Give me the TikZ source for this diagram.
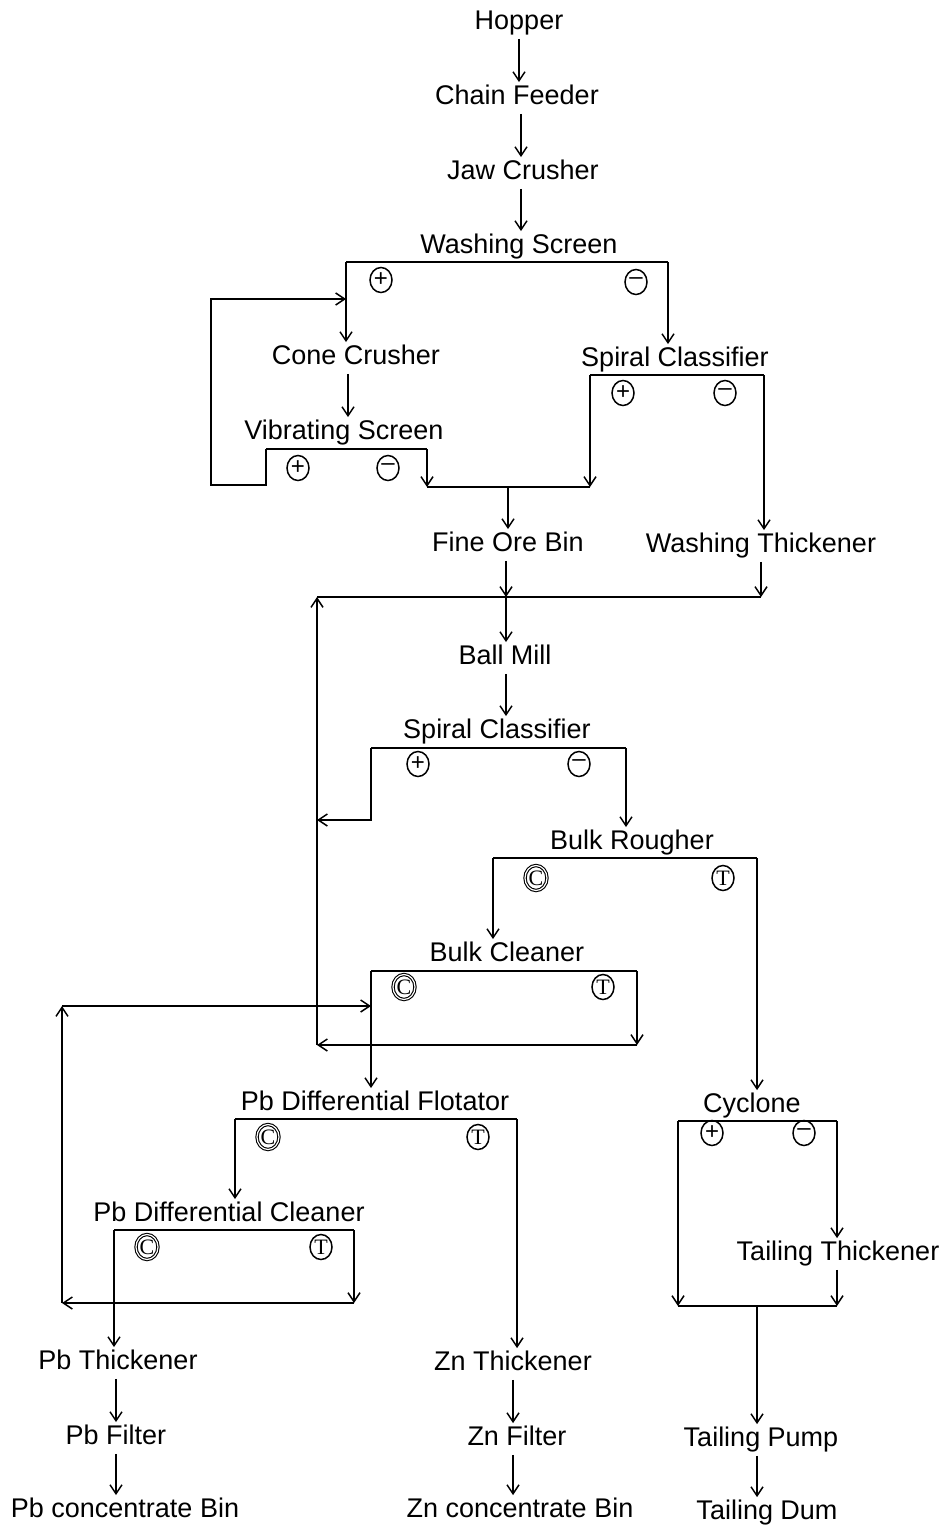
\documentclass[tikz,border=0pt]{standalone}
\usepackage{fontspec}
\setmainfont{Liberation Sans}
\newfontfamily\serifsym{Liberation Serif}
\usetikzlibrary{arrows.meta,shapes.geometric}
\begin{document}
\begin{tikzpicture}[x=1pt,y=-1pt,
  lbl/.style={font=\fontsize{27}{31}\selectfont, inner xsep=1pt, inner ysep=3pt, text height=19.5pt, text depth=5.9pt, yshift=-3pt},
  ln/.style={line width=1.6pt},
  arr/.style={ln, -{Straight Barb[length=9pt,width=12pt,line width=1.5pt]}},
  sym/.style={ellipse, draw, line width=1.5pt, inner sep=0pt, minimum width=22pt, minimum height=25pt, font=\fontsize{24}{24}\selectfont},
  symc/.style={sym, double, double distance=1.2pt, line width=1.1pt, font=\serifsym\fontsize{22}{22}\selectfont},
  symt/.style={sym, font=\serifsym\fontsize{22}{22}\selectfont},
]
\useasboundingbox (0,0) rectangle (946,1525);
% ---- nodes
\node[lbl] (hopper) at (519,20) {Hopper};
\node[lbl] (chain) at (517,95) {Chain Feeder};
\node[lbl] (jaw) at (523,170) {Jaw Crusher};
\node[lbl] (wash) at (519,244) {Washing Screen};
\node[lbl] (cone) at (356,355) {Cone Crusher};
\node[lbl] (spc1) at (675,357) {Spiral Classifier};
\node[lbl] (vib) at (344,430) {Vibrating Screen};
\node[lbl] (fob) at (508,542) {Fine Ore Bin};
\node[lbl] (wthick) at (761,543) {Washing Thickener};
\node[lbl] (ball) at (505,655) {Ball Mill};
\node[lbl] (spc2) at (497,729) {Spiral Classifier};
\node[lbl] (rough) at (632,840) {Bulk Rougher};
\node[lbl] (clean) at (507,952) {Bulk Cleaner};
\node[lbl] (pbf) at (375,1101) {Pb Differential Flotator};
\node[lbl] (cyc) at (752,1103) {Cyclone};
\node[lbl] (pbc) at (229,1212) {Pb Differential Cleaner};
\node[lbl] (tt) at (838,1251) {Tailing Thickener};
\node[lbl] (pbt) at (118,1360) {Pb Thickener};
\node[lbl] (znt) at (513,1361) {Zn Thickener};
\node[lbl] (pbfil) at (116,1435) {Pb Filter};
\node[lbl] (znfil) at (517,1436) {Zn Filter};
\node[lbl] (tpump) at (761,1437) {Tailing Pump};
\node[lbl] (pbbin) at (125,1508) {Pb concentrate Bin};
\node[lbl] (znbin) at (520,1508) {Zn concentrate Bin};
\node[lbl] (tdum) at (767,1510) {Tailing Dum};
% ---- symbols
\node[sym] (s1) at (381,280) {+};
\node[sym] (s2) at (636,282) {\raisebox{1pt}{--}};
\node[sym] (s3) at (623,393) {+};
\node[sym] (s4) at (725,393) {\raisebox{1pt}{--}};
\node[sym] (s5) at (298,468) {+};
\node[sym] (s6) at (388,468) {\raisebox{1pt}{--}};
\node[sym] (s7) at (418,764) {+};
\node[sym] (s8) at (579,764) {\raisebox{1pt}{--}};
\node[symc] (s9) at (536,878) {C};
\node[symt] (s10) at (723,878) {T};
\node[symc] (s11) at (404,987) {C};
\node[symt] (s12) at (603,987) {T};
\node[symc] (s13) at (268,1137) {C};
\node[symt] (s14) at (478,1137) {T};
\node[symc] (s15) at (147,1247) {C};
\node[symt] (s16) at (321,1247) {T};
\node[sym] (s17) at (712,1133) {+};
\node[sym] (s18) at (804,1133) {\raisebox{1pt}{--}};
% ---- coordinates
\coordinate (wsL) at (346,262); \coordinate (wsR) at (668,262);
\coordinate (vsL) at (266,449); \coordinate (vsR) at (427,449);
\coordinate (scL) at (590,375); \coordinate (scR) at (764,375);
\coordinate (j1L) at (427,487); \coordinate (j1M) at (508,487); \coordinate (j1R) at (590,487);
\coordinate (rc1) at (266,485); \coordinate (rc2) at (211,485); \coordinate (rc3) at (211,299); \coordinate (rc4) at (346,299);
\coordinate (j2L) at (317,597); \coordinate (j2M) at (506,597); \coordinate (j2R) at (761,597);
\coordinate (sc2L) at (371,748); \coordinate (sc2R) at (626,748);
\coordinate (r1) at (371,820); \coordinate (r2) at (317,820);
\coordinate (brL) at (493,858); \coordinate (brR) at (757,858);
\coordinate (bcL) at (371,971); \coordinate (bcR) at (637,971);
\coordinate (bcB) at (637,1045); \coordinate (rvB) at (317,1045);
\coordinate (lvT) at (62,1006); \coordinate (lvR) at (371,1006); \coordinate (lvB) at (62,1303);
\coordinate (pfL) at (235,1119); \coordinate (pfR) at (517,1119);
\coordinate (pcL) at (114,1230); \coordinate (pcR) at (354,1230); \coordinate (pcB) at (354,1303);
\coordinate (cyL) at (678,1121); \coordinate (cyR) at (837,1121);
\coordinate (cyBL) at (678,1306); \coordinate (cyBM) at (757,1306); \coordinate (cyBR) at (837,1306);
% ---- connectors
\draw[arr] (hopper.south) -- (hopper.south |- chain.north);
\draw[arr] ([xshift=4pt]chain.south) -- ([xshift=4pt]chain.south |- jaw.north);
\draw[arr] ([xshift=-2pt]jaw.south) -- ([xshift=-2pt]jaw.south |- wash.north);
\draw[ln] (wsL) -- (wsR);
\draw[arr] (wsL) -- (wsL |- cone.north);
\draw[arr] (wsR) -- (wsR |- spc1.north);
\draw[arr] ([xshift=-8pt]cone.south) -- ([xshift=-8pt]cone.south |- vib.north);
\draw[ln] (vsL) -- (vsR);
\draw[arr] (vsL) -- (rc1) -- (rc2) -- (rc3) -- (rc4);
\draw[arr] (vsR) -- (j1L);
\draw[ln] (j1L) -- (j1R);
\draw[ln] (scL) -- (scR);
\draw[arr] (scL) -- (j1R);
\draw[arr] (scR) -- (scR |- wthick.north);
\draw[arr] (j1M) -- (j1M |- fob.north);
\draw[arr] (fob.south -| j2M) -- (j2M);
\draw[arr] (wthick.south) -- (j2R);
\draw[ln] (j2L) -- (j2R);
\draw[arr] (j2M) -- (j2M |- ball.north);
\draw[arr] (ball.south -| j2M) -- (j2M |- spc2.north);
\draw[ln] (sc2L) -- (sc2R);
\draw[arr] (sc2L) -- (r1) -- (r2);
\draw[arr] (sc2R) -- (sc2R |- rough.north);
\draw[ln] (brL) -- (brR);
\draw[arr] (brL) -- (brL |- clean.north);
\draw[arr] (brR) -- (brR |- cyc.north);
\draw[ln] (bcL) -- (bcR);
\draw[arr] (bcR) -- (bcB);
\draw[arr] (bcB) -- (rvB);
\draw[arr] (rvB) -- (j2L);
\draw[arr] (bcL) -- (bcL |- pbf.north);
\draw[arr] (lvB) -- (lvT);
\draw[arr] (lvT) -- (lvR);
\draw[ln] (pfL) -- (pfR);
\draw[arr] (pfL) -- (pfL |- pbc.north);
\draw[arr] (pfR) -- (pfR |- znt.north);
\draw[ln] (pcL) -- (pcR);
\draw[arr] (pcR) -- (pcB);
\draw[arr] (pcB) -- (lvB);
\draw[arr] (pcL) -- (pcL |- pbt.north);
\draw[ln] (cyL) -- (cyR);
\draw[arr] (cyL) -- (cyBL);
\draw[arr] (cyR) -- (cyR |- tt.north);
\draw[arr] (tt.south -| cyR) -- (cyBR);
\draw[ln] (cyBL) -- (cyBR);
\draw[arr] (cyBM) -- (cyBM |- tpump.north);
\draw[arr] (pbt.south -| pbfil) -- (pbfil.north);
\draw[arr] (pbfil.south) -- (pbfil.south |- pbbin.north);
\draw[arr] (znt.south) -- (znt.south |- znfil.north);
\draw[arr] (znfil.south -| znt) -- (znt |- znbin.north);
\draw[arr] (tpump.south -| cyBM) -- (cyBM |- tdum.north);
\end{tikzpicture}
\end{document}
